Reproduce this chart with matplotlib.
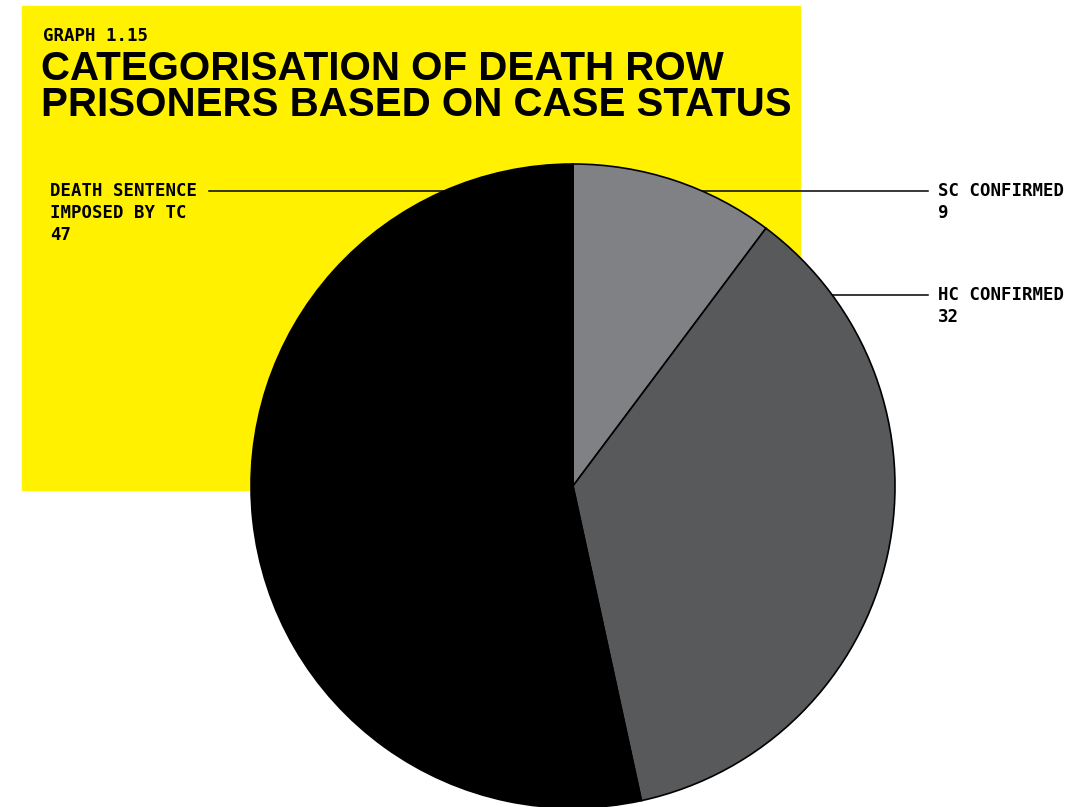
import matplotlib.pyplot as plt
from matplotlib.patches import Rectangle

# Case status of death row prisoners
labels = ["SC CONFIRMED", "HC CONFIRMED", "DEATH SENTENCE\nIMPOSED BY TC"]
values = [9, 32, 47]
colors = ["#808184", "#58595b", "#000000"]

W, H = 1086, 807
fig = plt.figure(figsize=(W / 100, H / 100), dpi=100)
ax = fig.add_axes([0, 0, 1, 1])
ax.set_xlim(0, W)
ax.set_ylim(0, H)
ax.set_aspect("equal")
ax.axis("off")

# yellow title block
ax.add_patch(Rectangle((22, H - 490), 778, 484, color="#fff100", zorder=0))

mono = "DejaVu Sans Mono"
ax.text(43, H - 36, "GRAPH 1.15", family=mono, weight="bold", fontsize=12.5,
        va="center", ha="left")
ax.text(41, H - 69, "CATEGORISATION OF DEATH ROW", family="Liberation Sans",
        weight="bold", fontsize=29, va="center", ha="left")
ax.text(41, H - 105, "PRISONERS BASED ON CASE STATUS", family="Liberation Sans",
        weight="bold", fontsize=29, va="center", ha="left")

# pie, clockwise from 12 o'clock
cx, cy, r = 573, H - 486, 322
ax.pie(values, colors=colors, startangle=90, counterclock=False,
       center=(cx, cy), radius=r, frame=True,
       wedgeprops=dict(edgecolor="black", linewidth=1.2, zorder=3))
ax.set_xlim(0, W)
ax.set_ylim(0, H)
ax.axis("off")

# leader lines (drawn under the pie)
ax.plot([209, 500], [H - 191, H - 191], color="black", lw=1.1, zorder=1)
ax.plot([650, 928], [H - 191, H - 191], color="black", lw=1.1, zorder=1)
ax.plot([780, 928], [H - 295, H - 295], color="black", lw=1.1, zorder=1)

def label(x, y, text, value):
    lines = text.split("\n") + [str(value)]
    for i, line in enumerate(lines):
        ax.text(x, H - (y + 22 * i), line, family=mono, weight="bold",
                fontsize=12.5, va="center", ha="left", zorder=5)

label(938, 191, labels[0], values[0])
label(938, 295, labels[1], values[1])
label(50, 191, labels[2], values[2])

fig.savefig("out.png", dpi=100)
